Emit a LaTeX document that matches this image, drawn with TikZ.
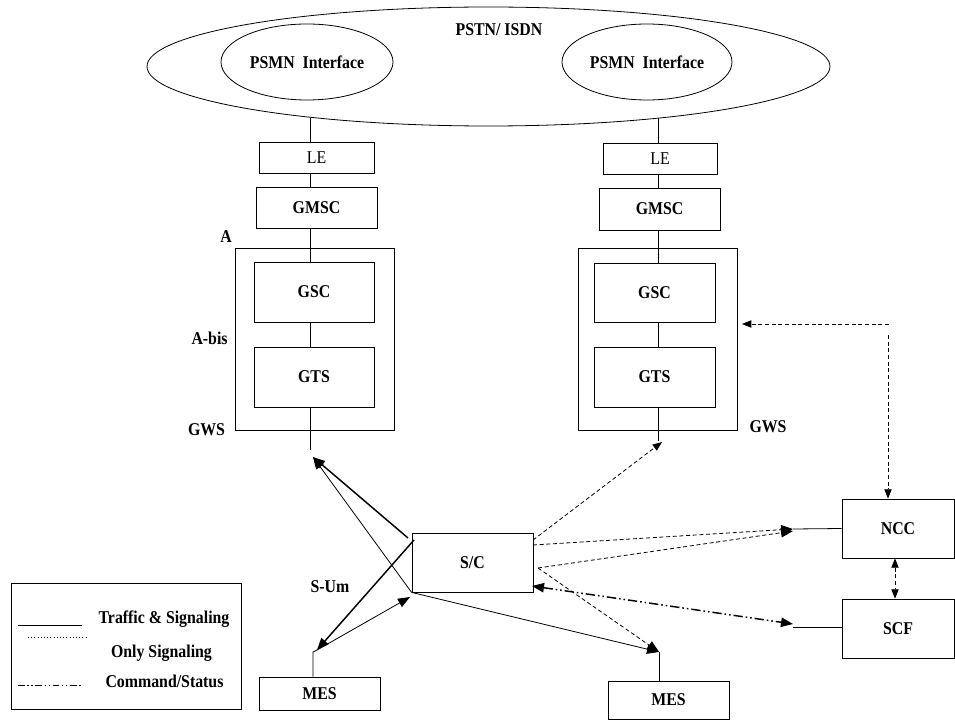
\documentclass[tikz,border=0pt]{standalone}
\usepackage{fontspec}
\setmainfont{Liberation Serif}[FakeStretch=0.88]
\usetikzlibrary{arrows.meta,shapes.geometric}
\begin{document}
\begin{tikzpicture}[x=0.75pt,y=-0.75pt,line width=0.6pt,
  lbl/.style={font=\fontsize{13.5}{15}\selectfont\bfseries,inner sep=0pt},
  box/.style={draw,fill=white,inner sep=0pt,font=\fontsize{13.5}{15}\selectfont\bfseries},
  oval/.style={draw,ellipse,inner sep=0pt,font=\fontsize{13.5}{15}\selectfont\bfseries},
  big/.style={-{Triangle[length=9pt,width=7pt]}},
  small/.style={-{Triangle[length=7pt,width=5.5pt]}},
  sig/.style={dash pattern=on 3pt off 2pt},
  cmd/.style={dash pattern=on 7pt off 2.2pt on 1.2pt off 2.2pt on 1.2pt off 2.2pt},
  thick1/.style={line width=1.1pt}]
\useasboundingbox (0,0) rectangle (955,720);

% column axes
\coordinate (colL) at (310,0);
\coordinate (colR) at (658,0);
\coordinate (tailL) at (310,450);
\coordinate (tailR) at (658,441);

% vertical trunk lines (drawn first, boxes cover them)
\draw (310,66) -- (tailL);
\draw (658,66) -- (tailR);

% PSTN cloud
\node[draw,ellipse,fill=white,minimum width=683*0.75pt,minimum height=119*0.75pt,inner sep=0pt] (pstn) at (488.5,66.5) {};
\node[lbl] (pstnlbl) at (499,30) {PSTN/ ISDN};
\node[oval,minimum width=172*0.75pt,minimum height=76*0.75pt] (psmnL) at (307,62) {PSMN\ \ Interface};
\node[oval,minimum width=170*0.75pt,minimum height=76*0.75pt] (psmnR) at (647,62) {PSMN\ \ Interface};

% left column
\node[box,font=\fontsize{13.5}{15}\selectfont,minimum width=115*0.75pt,minimum height=31*0.75pt] (leL) at (316.5,157.5) {LE};
\node[box,minimum width=121*0.75pt,minimum height=41*0.75pt] (gmscL) at (316.5,207.5) {GMSC};
\node[draw,inner sep=0pt,minimum width=159*0.75pt,minimum height=182*0.75pt] (gwsL) at (314.5,339) {};
\node[box,minimum width=120*0.75pt,minimum height=60*0.75pt] (gscL) at (314,292) {GSC};
\node[box,minimum width=120*0.75pt,minimum height=60*0.75pt] (gtsL) at (314,377) {GTS};

% right column
\node[box,font=\fontsize{13.5}{15}\selectfont,minimum width=114*0.75pt,minimum height=31*0.75pt] (leR) at (660,158.5) {LE};
\node[box,minimum width=121*0.75pt,minimum height=42*0.75pt] (gmscR) at (659.5,209) {GMSC};
\node[draw,inner sep=0pt,minimum width=159*0.75pt,minimum height=182*0.75pt] (gwsR) at (657.5,339) {};
\node[box,minimum width=121*0.75pt,minimum height=59*0.75pt] (gscR) at (654.5,292.5) {GSC};
\node[box,minimum width=121*0.75pt,minimum height=60*0.75pt] (gtsR) at (654.5,377) {GTS};

% labels
\node[lbl] (lA) at (226,237) {A};
\node[lbl,anchor=east] (lAbis) at (228,338) {A-bis};
\node[lbl] (lgwsL) at (206.5,430) {GWS};
\node[lbl] (lgwsR) at (768,427) {GWS};
\node[lbl] (lsum) at (330,587) {S-Um};

% lower boxes
\node[box,minimum width=121*0.75pt,minimum height=59*0.75pt] (sc) at (472.5,562.5) {S/C};
\node[box,minimum width=121*0.75pt,minimum height=33*0.75pt] (mesL) at (319.5,693.5) {MES};
\node[box,minimum width=121*0.75pt,minimum height=38*0.75pt] (mesR) at (668.5,700) {MES};
\node[box,minimum width=112*0.75pt,minimum height=59*0.75pt] (ncc) at (898,528.5) {NCC};
\node[box,minimum width=112*0.75pt,minimum height=59*0.75pt] (scf) at (898,628.5) {SCF};

% connector end points
\coordinate (tipL) at (313,457);
\coordinate (tipML) at (317,650);
\coordinate (tipMR) at (659,652);
\coordinate (tipG) at (662,442);
\coordinate (tipN) at (793,529);
\coordinate (tipS) at (793,624);
\coordinate (sA) at (408,538);
\coordinate (sB) at (414,540);
\coordinate (sC) at (533,540);
\coordinate (sD) at (533,545);
\coordinate (sE) at (538,568);
\coordinate (sF) at (532,586);
\coordinate (sG) at (410,597);
\coordinate (nccTop) at (888,335);
\coordinate (ctlEnd) at (889,324);
\coordinate (ctlTip) at (742,324);

% traffic & signaling (solid)
\draw[big,thick1] (sA) -- (tipL);
\draw[big] (sc.south west) -- (tipL);
\draw[big,thick1] (sB) -- (tipML);
\draw[big] (tipML) -- (sG);
\draw[big] (sc.south west) -- (tipMR);
\draw (mesL.north -| 313,0) -- (313,652) -- (tipML);
\draw (mesR.north -| tipMR) -- (tipMR);
\draw (tipN) -- (ncc.west);
\draw (793,627) -- (scf.west |- 0,627);

% only signaling (dashed)
\draw[sig,small] (sC) -- (tipG);
\draw[sig,big] (sD) -- (tipN);
\draw[sig,big] (sE) -- (793,531);
\draw[sig,big] (sE) -- (tipMR);
\draw[sig,{Triangle[length=7pt,width=5.5pt]}-{Triangle[length=7pt,width=5.5pt]}] (ncc.south -| 895,0) -- (scf.north -| 895,0);
\draw[sig,small] (ctlEnd) -- (ctlTip);
\draw[sig,small] (nccTop) -- (ncc.north -| nccTop);

% command / status
\draw[cmd,thick1,{Triangle[length=9pt,width=7pt]}-{Triangle[length=9pt,width=7pt]}] (sF) -- (tipS);

% legend
\node[draw,inner sep=0pt,minimum width=230*0.75pt,minimum height=126*0.75pt] (legend) at (126,646) {};
\coordinate (lg1a) at (18,625); \coordinate (lg1b) at (82,625);
\coordinate (lg2a) at (28,637); \coordinate (lg2b) at (87,637);
\coordinate (lg3a) at (18,685); \coordinate (lg3b) at (82,685);
\draw (lg1a) -- (lg1b);
\draw[dash pattern=on 0.8pt off 1.6pt] (lg2a) -- (lg2b);
\draw[dash pattern=on 5pt off 2pt on 1pt off 2pt on 1pt off 2pt] (lg3a) -- (lg3b);
\node[lbl] (lt1) at (164,619) {Traffic \& Signaling};
\node[lbl] (lt2) at (161.5,653) {Only Signaling};
\node[lbl] (lt3) at (164.5,681) {Command/Status};
\end{tikzpicture}
\end{document}
